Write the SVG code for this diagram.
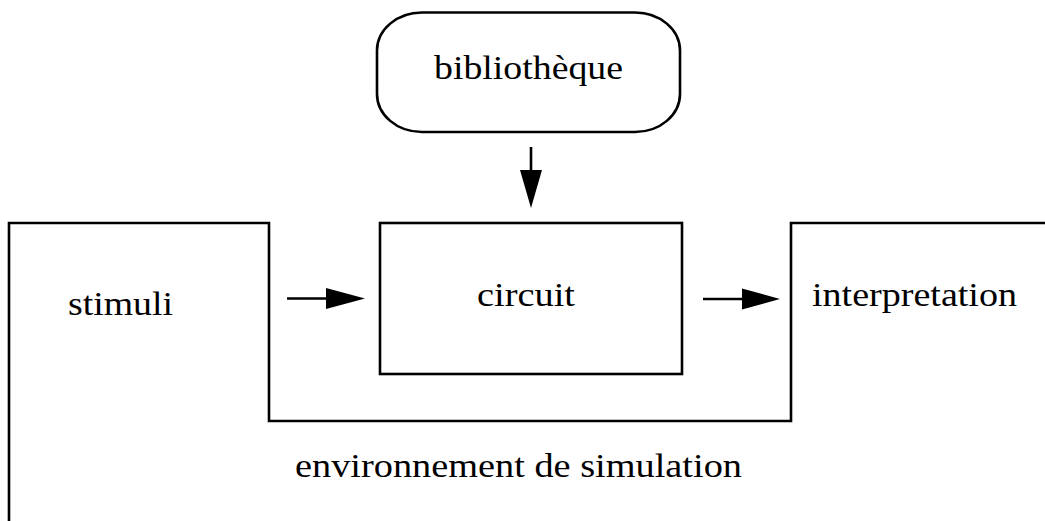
<svg xmlns="http://www.w3.org/2000/svg" width="1045" height="521" viewBox="0 0 1045 521">
<style>
.s{fill:none;stroke:#000;stroke-width:2.6}
.t{font-family:"Liberation Serif","Times New Roman",serif;font-size:33px;fill:#000}
.a{stroke:#000;stroke-width:2.6;fill:none}
.h{fill:#000;stroke:none}
</style>
<rect width="1045" height="521" fill="#fff"/>
<g id="environnement">
<polyline class="s" points="9,521 9,223 269,223 269,421 791,421 791,223 1045,223"/>
<text class="t" x="295" y="477" textLength="447" lengthAdjust="spacingAndGlyphs">environnement de simulation</text>
</g>
<g id="bibliotheque">
<rect class="s" x="377" y="12.5" width="303" height="119.5" rx="45" ry="38"/>
<text class="t" x="434" y="79" textLength="189" lengthAdjust="spacingAndGlyphs">bibliothèque</text>
</g>
<g id="circuit">
<rect class="s" x="380" y="223" width="302" height="151"/>
<text class="t" x="477" y="306" textLength="98" lengthAdjust="spacingAndGlyphs">circuit</text>
</g>
<g id="stimuli">
<text class="t" x="68" y="315" textLength="105" lengthAdjust="spacingAndGlyphs">stimuli</text>
</g>
<g id="interpretation">
<text class="t" x="812" y="306" textLength="205" lengthAdjust="spacingAndGlyphs">interpretation</text>
</g>
<g id="connectors">
<line class="a" x1="531" y1="147" x2="531" y2="171"/>
<polygon class="h" points="520,170 542,170 531,208"/>
<line class="a" x1="287" y1="298.5" x2="327" y2="298.5"/>
<polygon class="h" points="326,288 326,309 365,298.5"/>
<line class="a" x1="703" y1="299" x2="743" y2="299"/>
<polygon class="h" points="742,288.5 742,309.5 780,299"/>
</g>
</svg>
